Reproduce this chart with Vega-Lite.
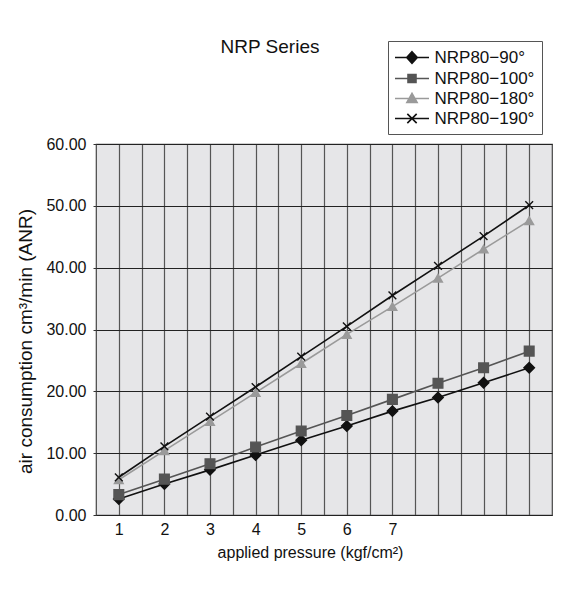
{
  "$schema": "https://vega.github.io/schema/vega-lite/v6.json",
  "width": 456,
  "height": 371,
  "autosize": {"type": "none"},
  "padding": {"left": 96, "top": 144, "right": 22, "bottom": 75},
  "background": "white",
  "title": {"text": "NRP Series", "font": "Liberation Sans", "fontSize": 19, "fontWeight": "normal", "color": "#111", "anchor": "middle", "dx": -54, "offset": 0, "dy": 16},
  "data": {"values": [
    {"p": 1, "series": "NRP80−90°", "v": 2.6},
    {"p": 2, "series": "NRP80−90°", "v": 5.0},
    {"p": 3, "series": "NRP80−90°", "v": 7.3},
    {"p": 4, "series": "NRP80−90°", "v": 9.7},
    {"p": 5, "series": "NRP80−90°", "v": 12.1},
    {"p": 6, "series": "NRP80−90°", "v": 14.4},
    {"p": 7, "series": "NRP80−90°", "v": 16.8},
    {"p": 8, "series": "NRP80−90°", "v": 19.0},
    {"p": 9, "series": "NRP80−90°", "v": 21.4},
    {"p": 10, "series": "NRP80−90°", "v": 23.8},
    {"p": 1, "series": "NRP80−100°", "v": 3.3},
    {"p": 2, "series": "NRP80−100°", "v": 5.8},
    {"p": 3, "series": "NRP80−100°", "v": 8.3},
    {"p": 4, "series": "NRP80−100°", "v": 11.0},
    {"p": 5, "series": "NRP80−100°", "v": 13.6},
    {"p": 6, "series": "NRP80−100°", "v": 16.1},
    {"p": 7, "series": "NRP80−100°", "v": 18.7},
    {"p": 8, "series": "NRP80−100°", "v": 21.3},
    {"p": 9, "series": "NRP80−100°", "v": 23.8},
    {"p": 10, "series": "NRP80−100°", "v": 26.5},
    {"p": 1, "series": "NRP80−180°", "v": 5.7},
    {"p": 2, "series": "NRP80−180°", "v": 10.4},
    {"p": 3, "series": "NRP80−180°", "v": 15.1},
    {"p": 4, "series": "NRP80−180°", "v": 19.8},
    {"p": 5, "series": "NRP80−180°", "v": 24.5},
    {"p": 6, "series": "NRP80−180°", "v": 29.2},
    {"p": 7, "series": "NRP80−180°", "v": 33.7},
    {"p": 8, "series": "NRP80−180°", "v": 38.3},
    {"p": 9, "series": "NRP80−180°", "v": 43.0},
    {"p": 10, "series": "NRP80−180°", "v": 47.6},
    {"p": 1, "series": "NRP80−190°", "v": 6.1},
    {"p": 2, "series": "NRP80−190°", "v": 11.1},
    {"p": 3, "series": "NRP80−190°", "v": 15.9},
    {"p": 4, "series": "NRP80−190°", "v": 20.7},
    {"p": 5, "series": "NRP80−190°", "v": 25.6},
    {"p": 6, "series": "NRP80−190°", "v": 30.5},
    {"p": 7, "series": "NRP80−190°", "v": 35.5},
    {"p": 8, "series": "NRP80−190°", "v": 40.3},
    {"p": 9, "series": "NRP80−190°", "v": 45.1},
    {"p": 10, "series": "NRP80−190°", "v": 50.1}
  ]},
  "encoding": {
    "x": {
      "field": "p", "type": "quantitative",
      "scale": {"domain": [0.5, 10.5], "nice": false, "zero": false},
      "axis": {
        "values": [1, 1.5, 2, 2.5, 3, 3.5, 4, 4.5, 5, 5.5, 6, 6.5, 7, 7.5, 8, 8.5, 9, 9.5, 10],
        "labelExpr": "(datum.value % 1 == 0 && datum.value <= 7) ? datum.value : ''",
        "grid": true, "gridColor": "#555", "gridWidth": 1.2,
        "ticks": false, "domain": false,
        "labelFont": "Liberation Sans", "labelFontSize": 16, "labelColor": "#111",
        "labelPadding": 6, "labelOverlap": false, "labelFlush": false,
        "title": "applied pressure (kgf/cm²)",
        "titleFont": "Liberation Sans", "titleFontSize": 16, "titleFontWeight": "normal", "titleColor": "#111",
        "titlePadding": 7, "titleX": 214
      }
    },
    "y": {
      "field": "v", "type": "quantitative",
      "scale": {"domain": [0, 60], "nice": false},
      "axis": {
        "values": [0, 10, 20, 30, 40, 50, 60],
        "format": ".2f",
        "grid": true, "gridColor": "#222", "gridWidth": 1.2,
        "ticks": true, "tickSize": 3, "tickColor": "#333", "domain": false,
        "labelFont": "Liberation Sans", "labelFontSize": 16, "labelColor": "#111",
        "labelPadding": 7,
        "title": "air consumption cm³/min (ANR)",
        "titleFont": "Liberation Sans", "titleFontSize": 19, "titleFontWeight": "normal", "titleColor": "#111",
        "titlePadding": 10, "titleY": 197
      }
    }
  },
  "layer": [
    {
      "mark": {"type": "line", "strokeWidth": 1.6},
      "encoding": {
        "stroke": {"field": "series", "type": "nominal", "legend": null,
          "scale": {"domain": ["NRP80−90°", "NRP80−100°", "NRP80−180°", "NRP80−190°"], "range": ["#111111", "#555555", "#9a9a9a", "#111111"]}}
      }
    },
    {
      "mark": {"type": "point", "filled": true, "opacity": 1, "strokeWidth": 1.4},
      "encoding": {
        "shape": {"field": "series", "type": "nominal", "legend": null,
          "scale": {"domain": ["NRP80−90°", "NRP80−100°", "NRP80−180°", "NRP80−190°"], "range": ["diamond", "square", "triangle-up", "M-1,-1L1,1M-1,1L1,-1"]}},
        "fill": {"field": "series", "type": "nominal", "legend": null,
          "scale": {"domain": ["NRP80−90°", "NRP80−100°", "NRP80−180°", "NRP80−190°"], "range": ["#111111", "#555555", "#9a9a9a", "#111111"]}},
        "stroke": {"field": "series", "type": "nominal", "legend": null,
          "scale": {"domain": ["NRP80−90°", "NRP80−100°", "NRP80−180°", "NRP80−190°"], "range": ["#111111", "#555555", "#9a9a9a", "#111111"]}},
        "size": {"field": "series", "type": "nominal", "legend": null,
          "scale": {"domain": ["NRP80−90°", "NRP80−100°", "NRP80−180°", "NRP80−190°"], "range": [110, 60, 90, 100]}}
      }
    },
    {
      "data": {"values": []},
      "mark": {"type": "point", "filled": true, "opacity": 1},
      "encoding": {
        "shape": {"field": "series", "type": "nominal",
          "scale": {"domain": ["NRP80−90°", "NRP80−100°", "NRP80−180°", "NRP80−190°"], "range": ["M-2,0H2M0,-0.68L0.62,0L0,0.68L-0.62,0Z", "M-2,0H2M-0.47,-0.47H0.47V0.47H-0.47Z", "M-2,0H2M0,-0.6L0.6,0.47H-0.6Z", "M-2,0H2M-0.55,-0.55L0.55,0.55M-0.55,0.55L0.55,-0.55"]},
          "legend": {"title": null, "orient": "none", "legendX": 292, "legendY": -103}},
        "fill": {"field": "series", "type": "nominal",
          "scale": {"domain": ["NRP80−90°", "NRP80−100°", "NRP80−180°", "NRP80−190°"], "range": ["#111111", "#555555", "#9a9a9a", "#111111"]},
          "legend": {"title": null, "orient": "none", "legendX": 292, "legendY": -103}},
        "stroke": {"field": "series", "type": "nominal",
          "scale": {"domain": ["NRP80−90°", "NRP80−100°", "NRP80−180°", "NRP80−190°"], "range": ["#111111", "#555555", "#9a9a9a", "#111111"]},
          "legend": {"title": null, "orient": "none", "legendX": 292, "legendY": -103}}
      }
    }
  ],
  "resolve": {"scale": {"shape": "independent", "fill": "independent", "stroke": "independent", "size": "independent"}},
  "config": {
    "view": {"fill": "#e6e6e8", "stroke": "#444", "strokeWidth": 1.2},
    "legend": {
      "symbolSize": 289, "symbolStrokeWidth": 1.6, "symbolFillColor": "#111", "symbolStrokeColor": "#111",
      "symbolOffset": 7.5,
      "labelFont": "Liberation Sans", "labelFontSize": 17, "labelColor": "#111", "labelOffset": 13,
      "padding": 7, "rowPadding": 2, "strokeColor": "#555", "fillColor": "white", "labelLimit": 300
    }
  }
}
